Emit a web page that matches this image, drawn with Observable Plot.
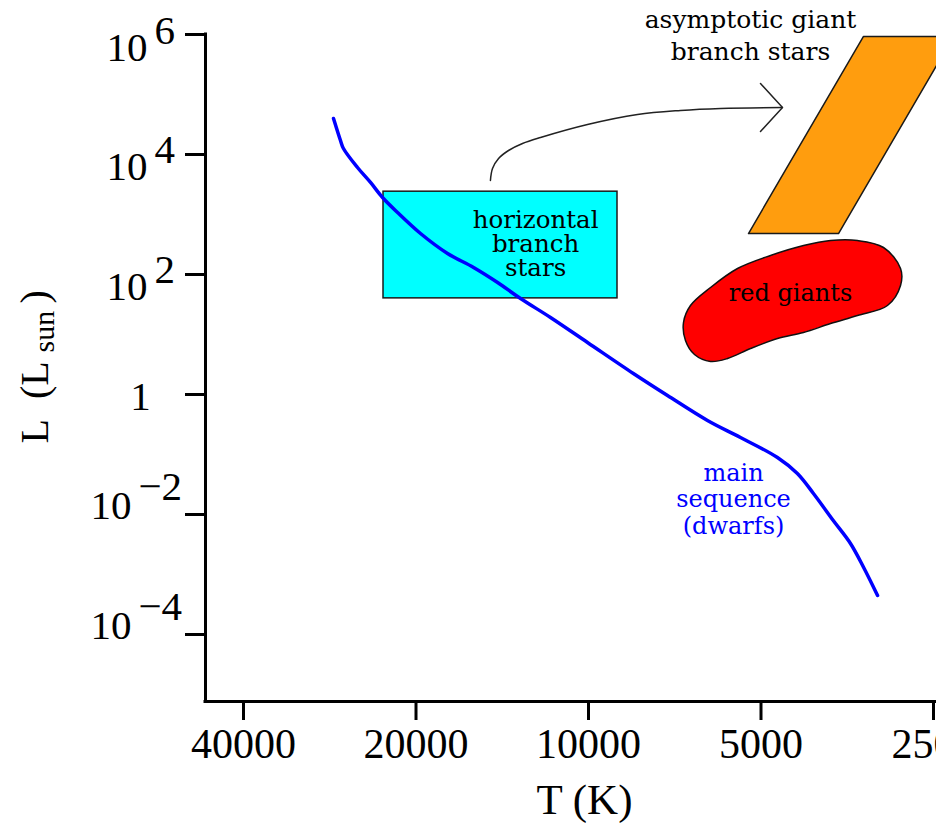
<!DOCTYPE html>
<html>
<head>
<meta charset="utf-8">
<script src="https://cdn.jsdelivr.net/npm/d3@7"></script>
<script src="https://cdn.jsdelivr.net/npm/@observablehq/plot@0.6"></script>
<style>
  body { margin: 0; background: #fff; }
  #chart svg { display: block; }
</style>
</head>
<body>
<div id="chart"></div>
<script>
// ---- Data (temperature in K, luminosity in solar units) ----
const tempTicks = [40000, 20000, 10000, 5000, 2500];
const lumPositiveExp = [6, 4, 2];
const lumNegativeExp = [-2, -4];
const lumUnit = [0];

// main sequence (dwarfs)
const mainSeqT = [27860, 27090, 26770, 25300, 24010, 22880, 21540, 19640, 17620, 15870, 14410, 13140, 11650, 10040, 8350, 7280, 6200, 5430, 4680, 4320, 4050, 3740, 3490, 3310, 3130];
const mainSeqL = [39800, 17100, 12600, 6070, 3420, 1920, 1080, 482, 224, 131, 73.6, 39.8, 19.2, 7.36, 2.24, 0.962, 0.369, 0.192, 0.0891, 0.0482, 0.0224, 0.00794, 0.00329, 0.00131, 0.000447];

// horizontal branch region
const hbBoxT = [22790, 8900];
const hbBoxL = [40, 2400];

// asymptotic giant branch region
const agbT = [5258, 3662, 2307, 3312];
const agbL = [482, 482, 926800, 926800];

// red giant region
const rgT = [3781, 3393, 3056, 2854, 2854, 3008, 3393, 3781, 4215, 4679, 5215, 5720, 6125, 6532, 6773, 6827, 6638, 6125, 5495, 4812, 4215];
const rgL = [368.6, 368.6, 281.8, 125.9, 65.6, 30.4, 20.7, 15.2, 10.8, 8.58, 5.84, 3.98, 3.55, 4.64, 7.94, 15.85, 30.4, 60.7, 125.9, 207.5, 304];

// evolution arrow (HB -> AGB)
const arrowT = [14830, 14707, 14354, 13790, 13037, 12127, 10040, 8212, 6910, 5880, 4590];
const arrowL = [3690, 5843, 8577, 11660, 15250, 19200, 31620, 46420, 54120, 58480, 60700];
const arrowHeadT = [5010, 4586, 5010];
const arrowHeadL = [152600, 60700, 24170];

// region labels and their anchor points
const labels = ["horizontal\nbranch\nstars", "red giants", "asymptotic giant\nbranch stars", "main\nsequence\n(dwarfs)"];
const labelT = [12370, 4441, 5215, 5584];
const labelL = [96.2, 35.5, 383000, 0.00482];

// ---- Chart ----
const pts = (T, L) => T.map((t, i) => ({T: t, L: L[i]}));
const xDomain = [46600, 2470];
const yDomain = [Math.pow(10, -5.117), 1e6];
const serif = "Liberation Serif, Times New Roman, serif";
const annFont = "DejaVu Serif, serif";
const lab = (i) => [{T: labelT[i], L: labelL[i], text: labels[i]}];

const chart = Plot.plot({
  width: 936,
  height: 824,
  marginLeft: 205,
  marginRight: 0,
  marginTop: 34,
  marginBottom: 123,
  style: {background: "#fff", fontFamily: serif, color: "#000", overflow: "visible"},
  x: {type: "log", domain: xDomain, axis: null},
  y: {type: "log", domain: yDomain, axis: null},
  marks: [
    Plot.rect([{x1: hbBoxT[0], x2: hbBoxT[1], y1: hbBoxL[0], y2: hbBoxL[1]}],
      {x1: "x1", x2: "x2", y1: "y1", y2: "y2", fill: "#00ffff", stroke: "#1a1a1a", strokeWidth: 1.5}),
    Plot.line(pts(agbT, agbL), {x: "T", y: "L", curve: "linear-closed", fill: "#ff9d0e", stroke: "#1a1a1a", strokeWidth: 1.5, clip: true}),
    Plot.line(pts(rgT, rgL), {x: "T", y: "L", curve: "catmull-rom-closed", fill: "#ff0000", stroke: "#111", strokeWidth: 1.5}),
    Plot.line(pts(arrowT, arrowL), {x: "T", y: "L", curve: "catmull-rom", stroke: "#222", strokeWidth: 1.5}),
    Plot.line(pts(arrowHeadT, arrowHeadL), {x: "T", y: "L", stroke: "#222", strokeWidth: 1.5}),
    Plot.line(pts(mainSeqT, mainSeqL), {x: "T", y: "L", curve: "catmull-rom", stroke: "#0000ff", strokeWidth: 3.5, strokeLinejoin: "round"}),

    // region labels
    Plot.text(lab(0), {x: "T", y: "L", text: "text", textAnchor: "middle", lineAnchor: "bottom", lineHeight: 0.97, fontSize: 24.5, fontFamily: annFont, fill: "#000"}),
    Plot.text(lab(1), {x: "T", y: "L", text: "text", textAnchor: "middle", lineAnchor: "bottom", fontSize: 24, fontFamily: annFont, fill: "#000"}),
    Plot.text(lab(2), {x: "T", y: "L", text: "text", textAnchor: "middle", lineAnchor: "bottom", lineHeight: 1.28, fontSize: 25, fontFamily: annFont, fill: "#000"}),
    Plot.text(lab(3), {x: "T", y: "L", text: "text", textAnchor: "middle", lineAnchor: "bottom", lineHeight: 1.1, fontSize: 24, fontFamily: annFont, fill: "#0000ff"}),

    // axis lines
    Plot.ruleX([xDomain[0]], {stroke: "#000", strokeWidth: 3, strokeLinecap: "square"}),
    Plot.ruleY([yDomain[0]], {stroke: "#000", strokeWidth: 3, strokeLinecap: "square"}),

    // x axis
    Plot.axisX({ticks: tempTicks, tickSize: 19, tickPadding: 8, tickFormat: d => String(d), fontSize: 42, fontFamily: serif, strokeWidth: 3, label: null, fill: "#000"}),
    Plot.text(["T (K)"], {text: d => d, frameAnchor: "bottom", textAnchor: "middle", lineAnchor: "bottom", dx: 13.5, dy: 112, fontSize: 43, fontFamily: serif, fill: "#000"}),

    // y axis ticks
    Plot.axisY({ticks: [...lumPositiveExp, ...lumUnit, ...lumNegativeExp].map(e => Math.pow(10, e)), tickSize: 20, tickFormat: () => "", strokeWidth: 3, label: null}),
    // y tick labels: 10^n
    Plot.text(lumPositiveExp, {y: e => Math.pow(10, e), text: () => "10", frameAnchor: "left", textAnchor: "end", lineAnchor: "bottom", dx: -58, dy: 26, fontSize: 41, fontFamily: serif, fill: "#000"}),
    Plot.text(lumPositiveExp, {y: e => Math.pow(10, e), text: e => String(e), frameAnchor: "left", textAnchor: "start", lineAnchor: "bottom", dx: -51, dy: 9, fontSize: 41, fontFamily: serif, fill: "#000"}),
    Plot.text(lumNegativeExp, {y: e => Math.pow(10, e), text: () => "10", frameAnchor: "left", textAnchor: "end", lineAnchor: "bottom", dx: -74, dy: 5, fontSize: 41, fontFamily: serif, fill: "#000"}),
    Plot.text(lumNegativeExp, {y: e => Math.pow(10, e), text: e => "\u2212" + Math.abs(e), frameAnchor: "left", textAnchor: "start", lineAnchor: "bottom", dx: -67, dy: -14, fontSize: 41, fontFamily: serif, fill: "#000"}),
    Plot.text(lumUnit, {y: e => Math.pow(10, e), text: () => "1", frameAnchor: "left", textAnchor: "middle", lineAnchor: "bottom", dx: -65, dy: 16, fontSize: 41, fontFamily: serif, fill: "#000"}),

    // y axis title: L (L_sun)
    Plot.text(["L\u2002(L"], {text: d => d, frameAnchor: "left", rotate: -90, textAnchor: "start", lineAnchor: "bottom", dx: -158, dy: 75.5, fontSize: 40, fontFamily: serif, fill: "#000"}),
    Plot.text(["sun"], {text: d => d, frameAnchor: "left", rotate: -90, textAnchor: "start", lineAnchor: "bottom", dx: -152, dy: -15.5, fontSize: 30, fontFamily: serif, fill: "#000"}),
    Plot.text([")"], {text: d => d, frameAnchor: "left", rotate: -90, textAnchor: "start", lineAnchor: "bottom", dx: -158, dy: -64.5, fontSize: 40, fontFamily: serif, fill: "#000"})
  ]
});
document.getElementById("chart").appendChild(chart);
</script>
</body>
</html>
